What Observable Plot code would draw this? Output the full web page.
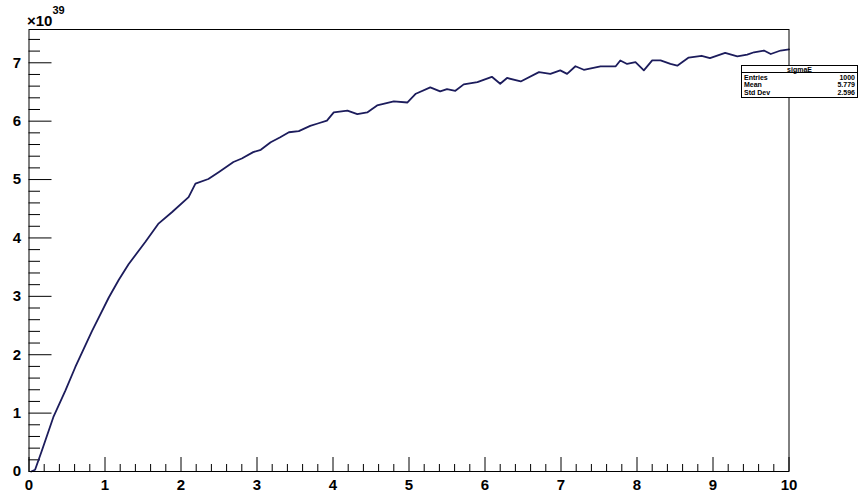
<!DOCTYPE html>
<html>
<head>
<meta charset="utf-8">
<script src="https://cdn.jsdelivr.net/npm/d3@7"></script>
<script src="https://cdn.jsdelivr.net/npm/@observablehq/plot@0.6"></script>
<style>
  html, body { margin: 0; padding: 0; background: #fff; }
  #chart { width: 860px; height: 494px; }
</style>
</head>
<body>
<div id="chart"></div>
<script>
// Data (values in units of 1e39)
const xs = [0.03, 0.08, 0.17, 0.32, 0.48, 0.61, 0.83, 1.05, 1.18, 1.31, 1.53, 1.70, 1.88, 2.10, 2.19, 2.36, 2.50, 2.69, 2.80, 2.95, 3.05, 3.18, 3.30, 3.42, 3.55, 3.70, 3.80, 3.92, 4.01, 4.19, 4.32, 4.45, 4.58, 4.80, 4.98, 5.09, 5.28, 5.41, 5.50, 5.61, 5.72, 5.90, 6.09, 6.20, 6.29, 6.47, 6.71, 6.86, 6.99, 7.08, 7.19, 7.30, 7.52, 7.72, 7.78, 7.87, 7.98, 8.09, 8.20, 8.31, 8.44, 8.53, 8.68, 8.85, 8.96, 9.16, 9.32, 9.45, 9.54, 9.67, 9.76, 9.89, 10.0];
const vs = [0.00, 0.03, 0.36, 0.93, 1.39, 1.79, 2.41, 2.98, 3.28, 3.55, 3.93, 4.24, 4.44, 4.70, 4.93, 5.01, 5.13, 5.30, 5.36, 5.47, 5.51, 5.64, 5.72, 5.81, 5.83, 5.92, 5.96, 6.01, 6.15, 6.18, 6.12, 6.15, 6.27, 6.34, 6.32, 6.47, 6.58, 6.51, 6.55, 6.52, 6.63, 6.67, 6.76, 6.64, 6.74, 6.68, 6.84, 6.81, 6.87, 6.81, 6.94, 6.88, 6.94, 6.94, 7.04, 6.98, 7.01, 6.87, 7.04, 7.04, 6.98, 6.95, 7.09, 7.12, 7.08, 7.17, 7.11, 7.14, 7.18, 7.21, 7.15, 7.21, 7.23];

const xTickLabels = ["0", "1", "2", "3", "4", "5", "6", "7", "8", "9", "10"];
const yTickLabels = ["0", "1", "2", "3", "4", "5", "6", "7"];
const exponentLabel = "39";

const statsTitle = "sigmaE";
const statsNames = ["Entries", "Mean", "Std Dev"];
const statsValues = ["1000", "5.779", "2.596"];

const data = xs.map((x, i) => ({x, v: vs[i]}));
const xMajor = xTickLabels.map(Number);
const yMajor = yTickLabels.map(Number);
const xMinor = d3.range(0, 10.001, 0.2).filter(d => Math.abs(d - Math.round(d)) > 1e-6);
const yMinor = d3.range(0, 7.57, 0.2).filter(d => Math.abs(d - Math.round(d)) > 1e-6);

const W = 860, H = 494, mL = 28.5, mR = 71.5, mT = 29, mB = 23;
const pw = W - mL - mR, ph = H - mT - mB;
const FONT = "'Liberation Sans', Arial, sans-serif";

const chart = Plot.plot({
  width: W, height: H,
  marginLeft: mL, marginRight: mR, marginTop: mT, marginBottom: mB,
  x: {domain: [0, 10]},
  y: {domain: [0, 7.57]},
  style: {fontFamily: FONT, fontSize: "15px", fontWeight: "bold", color: "#000", background: "#fff"},
  marks: [
    Plot.tickX(xMajor, {x: d => d, insetTop: ph - 14, stroke: "#000", strokeWidth: 1}),
    Plot.tickX(xMinor, {x: d => d, insetTop: ph - 7, stroke: "#000", strokeWidth: 1}),
    Plot.tickY(yMajor, {y: d => d, insetRight: pw - 23, stroke: "#000", strokeWidth: 1}),
    Plot.tickY(yMinor, {y: d => d, insetRight: pw - 11.5, stroke: "#000", strokeWidth: 1}),
    Plot.axisX(xMajor, {tickSize: 0, tickPadding: 8, label: null, tickFormat: (d, i) => xTickLabels[i], fontSize: 15}),
    Plot.axisY(yMajor, {tickSize: 0, tickPadding: 8, label: null, tickFormat: (d, i) => yTickLabels[i], fontSize: 15}),
    Plot.line(data, {x: "x", y: "v", stroke: "#1c1c5c", strokeWidth: 1.8, curve: "linear"}),
    Plot.frame({stroke: "#000", strokeWidth: 1})
  ]
});

document.getElementById("chart").appendChild(chart);

const svg = d3.select(chart);
// exponent label
const ex = svg.append("text")
  .attr("x", 27).attr("y", 26)
  .attr("text-anchor", "start")
  .attr("font-family", FONT).attr("font-weight", "bold")
  .attr("font-size", 15).attr("fill", "#000");
ex.append("tspan").text("×10");
ex.append("tspan").attr("dy", -12).attr("font-size", 11).text(exponentLabel);

// stats box
const g = svg.append("g").attr("font-family", FONT).attr("fill", "#000").attr("text-anchor", "start");
g.append("rect").attr("x", 741.5).attr("y", 65.5).attr("width", 116).attr("height", 32)
  .attr("fill", "#fff").attr("stroke", "#000").attr("stroke-width", 1);
g.append("line").attr("x1", 741.5).attr("x2", 857.5).attr("y1", 72.5).attr("y2", 72.5)
  .attr("stroke", "#000").attr("stroke-width", 1);
g.append("text").attr("x", 799.5).attr("y", 71.5).attr("text-anchor", "middle")
  .attr("font-size", 7).attr("font-weight", "bold").text(statsTitle);
statsNames.forEach((n, i) => {
  const y = 79.5 + i * 7.5;
  g.append("text").attr("x", 744).attr("y", y).attr("font-size", 7).attr("font-weight", "bold")
    .attr("text-anchor", "start").text(n);
  g.append("text").attr("x", 855).attr("y", y).attr("font-size", 7).attr("font-weight", "bold")
    .attr("text-anchor", "end").text(statsValues[i]);
});
</script>
</body>
</html>
